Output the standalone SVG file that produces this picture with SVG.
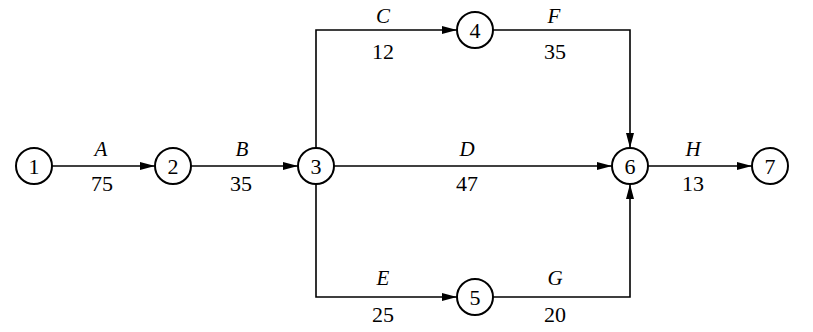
<svg xmlns="http://www.w3.org/2000/svg" width="813" height="332" viewBox="0 0 813 332">
<style>
.node circle{fill:#fff;stroke:#000;stroke-width:2}
.node text{font-family:"Liberation Serif",serif;font-size:22px;text-anchor:middle;fill:#000}
.edge{fill:none;stroke:#000;stroke-width:1.6}
.lbl{font-family:"Liberation Serif",serif;font-size:21px;font-style:italic;text-anchor:middle;fill:#000}
.num{font-family:"Liberation Serif",serif;font-size:22px;text-anchor:middle;fill:#000}
</style>
<defs>
<marker id="arr" viewBox="0 0 15 8" refX="15" refY="4" markerWidth="15" markerHeight="8" markerUnits="userSpaceOnUse" orient="auto">
<path d="M0,0 L15,4 L0,8 Z" fill="#000"/>
</marker>
</defs>
<g id="connectors">
<line class="edge" x1="52" y1="166" x2="155" y2="166" marker-end="url(#arr)"/>
<line class="edge" x1="191" y1="166" x2="298" y2="166" marker-end="url(#arr)"/>
<polyline class="edge" points="316,148 316,30 457,30" marker-end="url(#arr)"/>
<line class="edge" x1="334" y1="166" x2="612" y2="166" marker-end="url(#arr)"/>
<polyline class="edge" points="316,184 316,297 457,297" marker-end="url(#arr)"/>
<polyline class="edge" points="493,30 630,30 630,148" marker-end="url(#arr)"/>
<polyline class="edge" points="493,297 630,297 630,184" marker-end="url(#arr)"/>
<line class="edge" x1="648" y1="166" x2="752" y2="166" marker-end="url(#arr)"/>
<text class="lbl" x="101" y="156">A</text><text class="num" x="102" y="191">75</text>
<text class="lbl" x="242" y="156">B</text><text class="num" x="241" y="191">35</text>
<text class="lbl" x="383" y="23">C</text><text class="num" x="383" y="59">12</text>
<text class="lbl" x="554" y="23">F</text><text class="num" x="555" y="59">35</text>
<text class="lbl" x="467" y="156">D</text><text class="num" x="467" y="191">47</text>
<text class="lbl" x="693" y="156">H</text><text class="num" x="693" y="191">13</text>
<text class="lbl" x="383" y="285">E</text><text class="num" x="383" y="322">25</text>
<text class="lbl" x="555" y="285">G</text><text class="num" x="555" y="322">20</text>
</g>
<g id="n1" class="node"><circle cx="34" cy="166" r="18"/><text x="34" y="174">1</text></g>
<g id="n2" class="node"><circle cx="173" cy="166" r="18"/><text x="173" y="174">2</text></g>
<g id="n3" class="node"><circle cx="316" cy="166" r="18"/><text x="316" y="174">3</text></g>
<g id="n4" class="node"><circle cx="475" cy="30" r="18"/><text x="475" y="38">4</text></g>
<g id="n5" class="node"><circle cx="475" cy="297" r="18"/><text x="475" y="305">5</text></g>
<g id="n6" class="node"><circle cx="630" cy="166" r="18"/><text x="630" y="174">6</text></g>
<g id="n7" class="node"><circle cx="770" cy="166" r="18"/><text x="770" y="174">7</text></g>
</svg>
